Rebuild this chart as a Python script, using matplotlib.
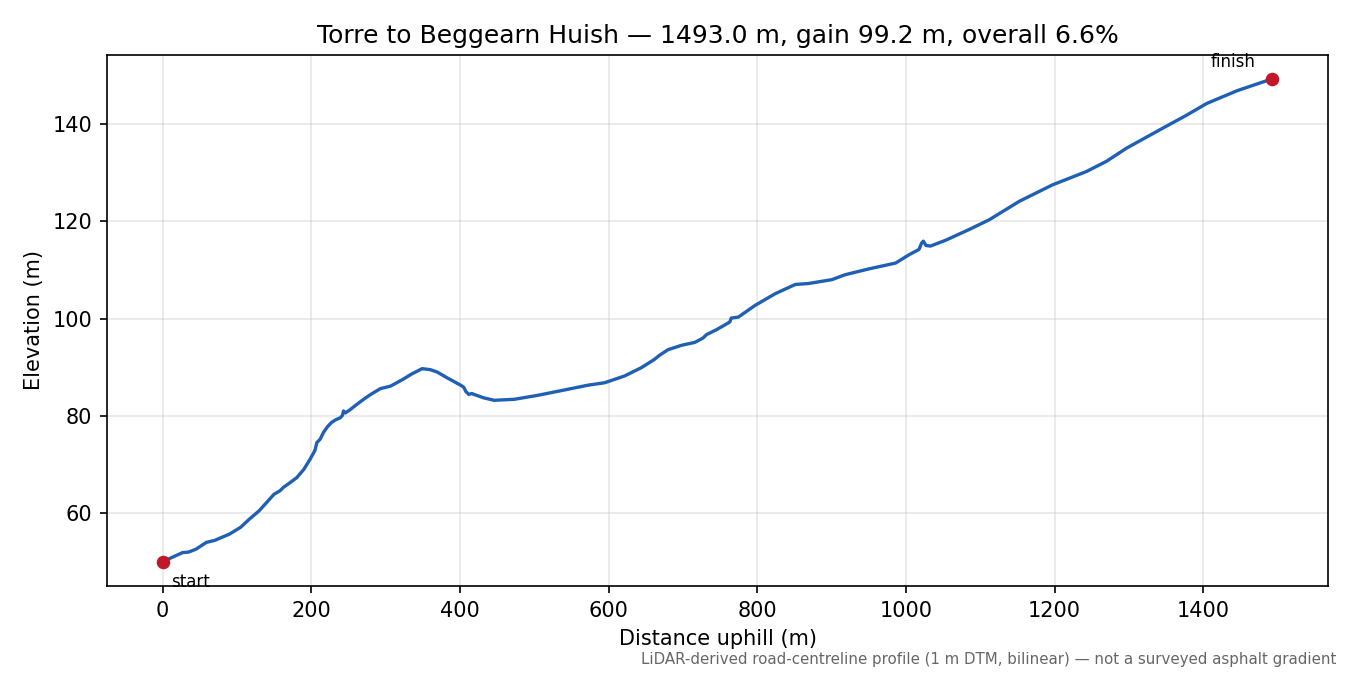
import matplotlib
matplotlib.use("Agg")
import numpy as np
import matplotlib.pyplot as plt

# profile (distance m, elevation m)
dist = [0, 14, 27, 35, 45, 59, 70, 90, 105, 117, 130, 140, 150, 158, 162.5, 170, 180.5,
        190, 198.5, 205, 207.5, 212, 216.5, 222, 227.7, 233, 239, 242, 243.4, 246, 252.5,
        260, 270.4, 280, 293, 306.5, 315, 324.4, 335, 349.2, 360, 369.5, 383, 395, 401,
        405, 408, 412, 416, 419, 432, 446, 473, 504, 540, 572, 594.5, 621.5, 644, 657.5,
        661.6, 668, 679.9, 698, 716, 727, 731.7, 745, 761, 763, 765, 774.5, 797, 824,
        851, 869, 900.5, 918, 950, 986, 1004, 1017.5, 1021, 1023.3, 1027, 1033, 1053.5,
        1085, 1112, 1152.5, 1197.5, 1242.5, 1269.5, 1296.5, 1341.5, 1377.5, 1404.5,
        1445, 1485.5, 1493]
elev = [50.0, 51.0, 51.9, 52.0, 52.6, 54.0, 54.4, 55.7, 57.1, 58.8, 60.5, 62.2, 63.9,
        64.6, 65.3, 66.1, 67.3, 69.0, 71.1, 72.9, 74.5, 75.2, 76.6, 77.8, 78.7, 79.2,
        79.6, 80.1, 81.0, 80.6, 81.3, 82.2, 83.4, 84.4, 85.6, 86.1, 86.8, 87.6, 88.6,
        89.7, 89.5, 89.0, 87.8, 86.8, 86.3, 85.9, 85.0, 84.4, 84.6, 84.4, 83.7, 83.2,
        83.4, 84.2, 85.3, 86.3, 86.8, 88.2, 89.9, 91.2, 91.6, 92.4, 93.6, 94.5, 95.1,
        96.0, 96.7, 97.7, 99.1, 99.3, 100.1, 100.3, 102.7, 105.1, 107.0, 107.2, 108.0,
        109.0, 110.2, 111.4, 113.1, 114.2, 115.5, 115.9, 115.0, 114.9, 116.1, 118.3,
        120.3, 124.1, 127.5, 130.2, 132.3, 135.0, 138.8, 141.8, 144.2, 146.8, 148.9,
        149.2]

title = "Torre to Beggearn Huish \u2014 1493.0 m, gain 99.2 m, overall 6.6%"
note = "LiDAR-derived road-centreline profile (1 m DTM, bilinear) \u2014 not a surveyed asphalt gradient"

fig, ax = plt.subplots(figsize=(9, 4.5), dpi=150)
ax.plot(dist, elev, color="#1f5fb4", lw=1.6)
ax.plot([dist[0], dist[-1]], [elev[0], elev[-1]], "o", color="#c0182a", ms=5.5, zorder=3)
ax.annotate("start", (dist[0], elev[0]), xytext=(4, -5.5), textcoords="offset points",
            ha="left", va="top", fontsize=8)
ax.annotate("finish", (dist[-1], elev[-1]), xytext=(-8, 4), textcoords="offset points",
            ha="right", va="bottom", fontsize=8)
ax.set_xlabel("Distance uphill (m)")
ax.set_ylabel("Elevation (m)")
ax.set_title(title)
ax.grid(True, alpha=0.3)
fig.subplots_adjust(left=0.0793, right=0.9837, top=0.9185, bottom=0.1319)
fig.text(0.99, 0.012, note, ha="right", va="bottom", fontsize=7.2, color="#666666")
fig.savefig("out.png")
